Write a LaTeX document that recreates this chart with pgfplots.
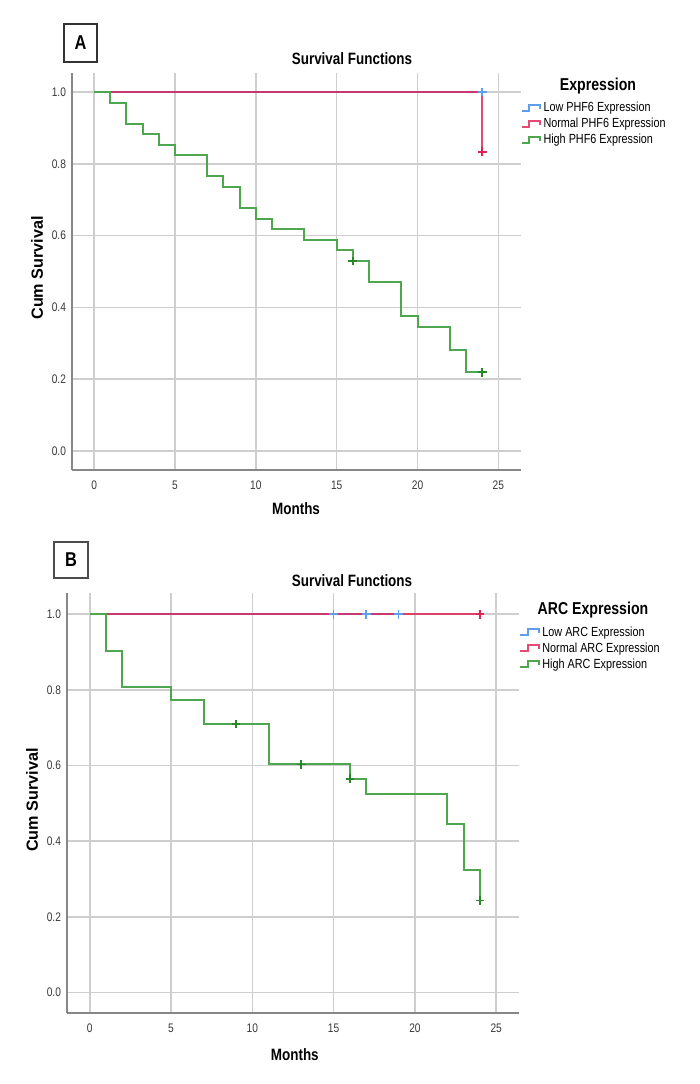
\documentclass[border=0pt]{standalone}
\usepackage{fontspec}
\setmainfont{Liberation Sans}[FakeStretch=0.82]
\newfontfamily\ylabfont{Liberation Sans}
\usepackage{pgfplots}
\pgfplotsset{compat=1.18}
\definecolor{kmblue}{RGB}{95,158,235}
\definecolor{kmred}{RGB}{222,35,85}
\definecolor{kmgreen}{RGB}{78,166,78}
\definecolor{kmgreenmark}{RGB}{40,135,40}
\definecolor{gridgray}{RGB}{206,206,206}
\definecolor{spinegray}{RGB}{135,135,135}
\pgfplotsset{
  kmaxis/.style={
    scale only axis, enlargelimits=false, clip=false,
    axis x line*=bottom, axis y line*=left,
    axis line style={spinegray, line width=0.75pt, -},
    xtick={0,5,10,15,20,25}, ytick={0,0.2,0.4,0.6,0.8,1},
    grid=major, major grid style={gridgray, line width=0.75pt},
    major tick length=0pt, tick style={draw=none},
    ticklabel style={font=\fontsize{6.2}{7}\selectfont, text=black!78},
    /pgf/number format/assume math mode=true,
    yticklabel style={/pgf/number format/fixed, /pgf/number format/fixed zerofill, /pgf/number format/precision=1, xshift=0.5pt},
    xticklabel style={yshift=-2pt},
    xlabel style={font=\bfseries\fontsize{8.2}{9}\selectfont, anchor=center},
    ylabel style={font=\ylabfont\bfseries\fontsize{8.1}{9}\selectfont, anchor=center},
    legend cell align=left,
    legend style={draw=none, fill=none, inner sep=0pt, row sep=2pt, column sep=0pt,
      font=\fontsize{6.6}{7.5}\selectfont,
      nodes={inner sep=0pt, text height=4.6pt, text depth=1.4pt}},
    legend image code/.code={\draw[##1, mark=none] (0pt,-1.0pt)--(3.6pt,-1.0pt)--(3.6pt,1.8pt)--(9.3pt,1.8pt)--(9.3pt,-0.2pt);
      \path (10.5pt,0pt);},
  },
  kmline/.style={const plot, line width=1pt},
  kmcens/.style={only marks, mark=+, mark size=2.2pt, mark options={line width=0.75pt}, forget plot},
}
\begin{document}
\begin{tikzpicture}
\path[use as bounding box] (0pt,0pt) rectangle (350pt,542pt);

% ---------------- Panel A ----------------
\begin{axis}[kmaxis,
  at={(36pt,307pt)}, anchor=south west,
  width=224.5pt, height=198.5pt,
  xmin=-1.37, xmax=26.4, ymin=-0.053, ymax=1.053,
  xlabel={Months}, xlabel style={at={(rel axis cs:0.499,0)}, yshift=-19.5pt},
  ylabel={Cum Survival}, ylabel style={at={(rel axis cs:0,0.509)}, yshift=17.5pt},
  legend style={at={(rel axis cs:0.998,0.926)}, anchor=north west},
]
\addplot[kmline, kmblue] coordinates {(0,1) (24,1)};
\addlegendentry{Low PHF6 Expression}
\addplot[kmline, kmred, opacity=0.82] coordinates {(0,1) (24,0.8333)};
\addlegendentry{Normal PHF6 Expression}
\addplot[kmline, kmgreen] coordinates {(0,1) (1,0.9706) (2,0.9118) (3,0.8824) (4,0.8529) (5,0.8235) (7,0.7647) (8,0.7353) (9,0.6765) (10,0.6471) (11,0.6176) (13,0.5882) (15,0.5588) (16,0.5294) (17,0.4706) (19,0.3765) (20,0.3451) (22,0.2824) (23,0.2196) (24,0.2196)};
\addlegendentry{High PHF6 Expression}
\addplot[kmcens, kmblue] coordinates {(24,1)};
\addplot[kmcens, kmred] coordinates {(24,0.8333)};
\addplot[kmcens, kmgreenmark] coordinates {(16,0.5294) (24,0.2196)};
\end{axis}

% ---------------- Panel B ----------------
\begin{axis}[kmaxis,
  at={(33.5pt,35.5pt)}, anchor=south west,
  width=226pt, height=210pt,
  xmin=-1.4, xmax=26.4, ymin=-0.054, ymax=1.056,
  xlabel={Months}, xlabel style={at={(rel axis cs:0.504,0)}, yshift=-21pt},
  ylabel={Cum Survival}, ylabel style={at={(rel axis cs:0,0.507)}, yshift=17.5pt},
  legend style={at={(rel axis cs:1.0,0.920)}, anchor=north west},
]
\addplot[kmline, kmblue] coordinates {(0,1) (19,1)};
\addlegendentry{Low ARC Expression}
\addplot[kmline, kmred, opacity=0.82] coordinates {(0,1) (24,1)};
\addlegendentry{Normal ARC Expression}
\addplot[kmline, kmgreen] coordinates {(0,1) (1,0.9032) (2,0.8065) (5,0.7742) (7,0.7097) (11,0.6030) (16,0.5650) (17,0.5260) (22,0.4460) (23,0.3250) (24,0.2430)};
\addlegendentry{High ARC Expression}
\addplot[kmcens, kmblue] coordinates {(15,1) (17,1) (19,1)};
\addplot[kmcens, kmred] coordinates {(24,1)};
\addplot[kmcens, kmgreenmark] coordinates {(9,0.7097) (13,0.6030) (16,0.5650) (24,0.2430)};
\end{axis}

% titles, panel letters, legend titles
\node[font=\bfseries\fontsize{8.2}{9}\selectfont] at (176pt,512.5pt) {Survival Functions};
\node[font=\bfseries\fontsize{8.2}{9}\selectfont] at (176pt,251.5pt) {Survival Functions};
\node[font=\bfseries\fontsize{8.6}{9}\selectfont] at (299pt,499pt) {Expression};
\node[font=\bfseries\fontsize{8.6}{9}\selectfont] at (296.5pt,237pt) {ARC Expression};
\draw[black!80, line width=0.75pt] (32pt,511pt) rectangle (48.5pt,530pt);
\node[font=\bfseries\fontsize{10}{11}\selectfont] at (40.25pt,520.5pt) {A};
\draw[black!70, line width=0.75pt] (27pt,253pt) rectangle (44pt,271pt);
\node[font=\bfseries\fontsize{10}{11}\selectfont] at (35.5pt,262pt) {B};
\end{tikzpicture}
\end{document}
